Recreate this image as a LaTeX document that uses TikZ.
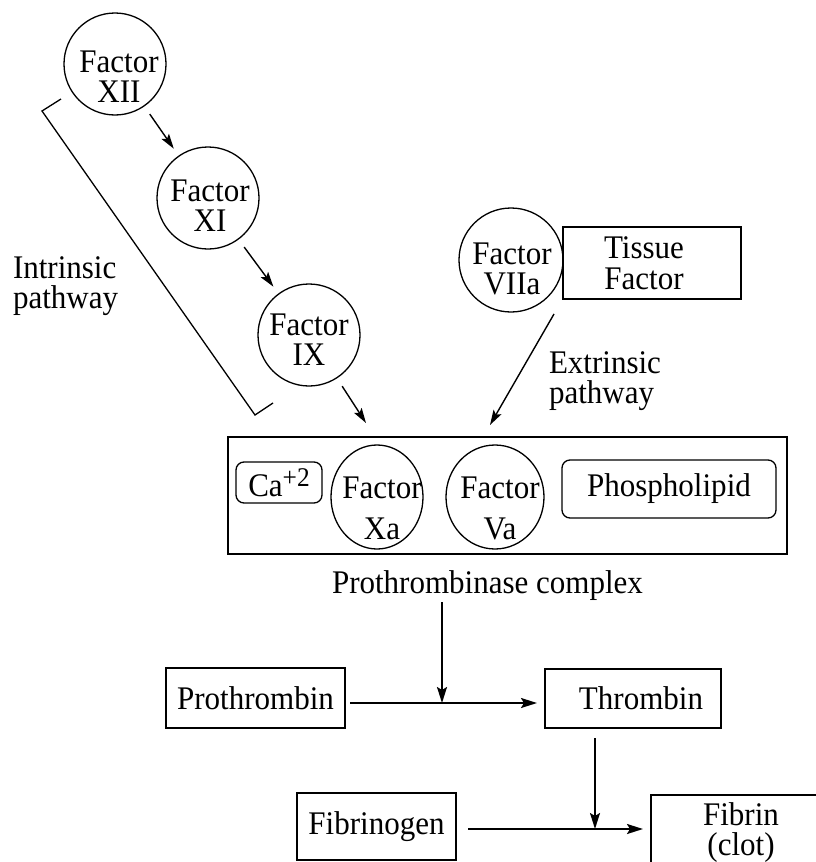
\documentclass[tikz,border=0pt]{standalone}
\usepackage{fontspec}
\setmainfont[FakeStretch=0.94]{Liberation Serif}
\usetikzlibrary{arrows.meta,shapes.geometric}
\begin{document}
\begin{tikzpicture}[x=1pt,y=-1pt,
  every node/.style={font=\fontsize{33}{30}\selectfont, inner sep=0pt, outer sep=0pt},
  fcirc/.style={circle, draw, line width=1.3pt, minimum size=102pt},
  fell/.style={ellipse, draw, line width=1.3pt, minimum height=104pt},
  sbox/.style={draw, line width=1.3pt},
  rbox/.style={draw, line width=1.3pt, rounded corners=8pt},
  lbl/.style={align=center},
  lbll/.style={align=left, anchor=west, font=\fontsize{33}{30}\selectfont},
  arr/.style={line width=1.4pt, -{Stealth[length=15pt,width=9pt,inset=3pt]}},
  barr/.style={line width=2pt, -{Stealth[length=16pt,width=10pt,inset=3pt]}},
]
\useasboundingbox (0,0) rectangle (816,862);
\clip (0,0) rectangle (816,862);

% intrinsic pathway circles
\node[fcirc] (xii) at (115,64) {};
\node[lbl] (xiit) at (119,77) {Factor\\XII};
\node[fcirc] (xi) at (208,198) {};
\node[lbl] (xit) at (210,206) {Factor\\XI};
\node[fcirc] (ix) at (309,335) {};
\node[lbl] (ixt) at (309,340) {Factor\\IX};

\draw[arr, shorten <=10pt, shorten >=9pt] (xii) -- (xi);
\draw[arr, shorten <=10pt, shorten >=9pt] (xi) -- (ix);
\coordinate (ixend) at (366,423);
\draw[arr, shorten <=10pt] (ix) -- (ixend);

% bracket
\draw[line width=1.3pt] (61,99) -- (42,111) -- (255,415) -- (273,403);
\node[lbll] (intr) at (13,286) {Intrinsic\\pathway};

% extrinsic pathway
\node[fcirc, minimum size=104pt] (viia) at (511,260) {};
\node[lbl] (viiat) at (512,269) {Factor\\VIIa};
\node[sbox, minimum width=178pt, minimum height=72pt] (tf) at (652,263) {};
\node[lbl, font=\fontsize{33}{31}\selectfont] (tft) at (644,263) {Tissue\\Factor};
\coordinate (exs) at (554,314);
\coordinate (exe) at (490,425);
\draw[arr] (exs) -- (exe);
\node[lbll] (extr) at (549,381) {Extrinsic\\pathway};

% prothrombinase complex
\node[sbox, minimum width=559pt, minimum height=117pt] (cplx) at (507.5,495.5) {};
\node[rbox, minimum width=86pt, minimum height=41pt] (ca) at (279,482.5) {Ca\raisebox{10pt}{\fontsize{27}{27}\selectfont +2}};
\node[fell, minimum width=92pt] (xa) at (377,497) {};
\node[lbl, font=\fontsize{33}{41}\selectfont] (xat) at (382,508) {Factor\\Xa};
\node[fell, minimum width=98pt] (va) at (495,497) {};
\node[lbl, font=\fontsize{33}{41}\selectfont] (vat) at (500,508) {Factor\\Va};
\node[rbox, minimum width=214pt, minimum height=58pt] (phos) at (669,489) {Phospholipid};
\node (pclabel) at (487.5,585.5) {Prothrombinase complex};

% bottom cascade
\node[sbox, minimum width=179pt, minimum height=60pt] (prothrombin) at (255.5,698) {Prothrombin};
\node[sbox, minimum width=176pt, minimum height=59pt] (thrombin) at (633,698.5) {\hspace*{16pt}Thrombin};
\node[sbox, minimum width=159pt, minimum height=67pt] (fibrinogen) at (376.5,826.5) {Fibrinogen};
\node[sbox, minimum width=178pt, minimum height=76pt] (fibrin) at (740,833) {};
\node[lbl] (fibrint) at (741,833) {Fibrin\\(clot)};

\coordinate (pcs) at (442,602);
\coordinate (pcj) at (442,703);
\draw[barr] (pcs) -- (pcj);
\draw[barr, shorten <=5pt, shorten >=8pt] (prothrombin.east |- pcj) -- (thrombin.west |- pcj);
\coordinate (tj) at (595,829);
\draw[barr] ([yshift=-10pt]thrombin.south -| tj) -- (tj);
\draw[barr, shorten <=12pt, shorten >=8pt] (fibrinogen.east |- tj) -- (fibrin.west |- tj);
\end{tikzpicture}
\end{document}
